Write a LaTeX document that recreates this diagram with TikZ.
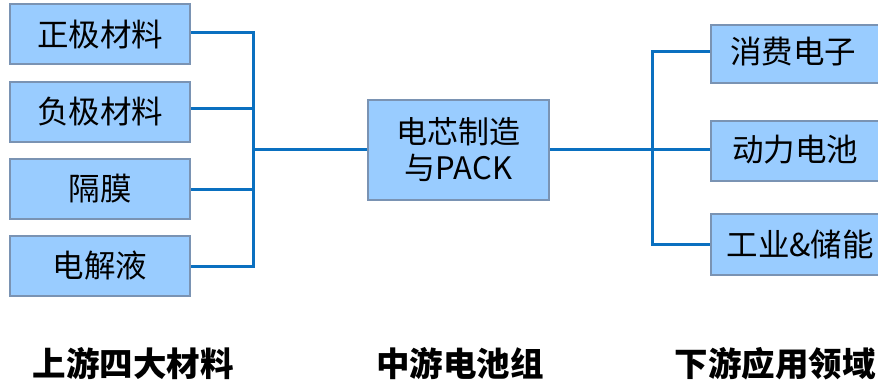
\documentclass[tikz,border=0pt]{standalone}
\usepackage{fontspec}
\setmainfont{Noto Sans CJK SC}
\begin{document}
\begin{tikzpicture}[x=1pt,y=-1pt,
  box/.style={draw=boxborder,line width=2pt,fill=boxfill,inner sep=0pt,minimum width=180pt,minimum height=60pt,font=\fontsize{31.5}{35}\selectfont},
  boxtext/.style={font=\fontsize{31.5}{35}\selectfont},
  conn/.style={draw=linkblue,line width=3pt},
  captext/.style={font=\fontsize{33.5}{37}\selectfont\bfseries}]
\definecolor{boxfill}{HTML}{99CCFF}
\definecolor{boxborder}{HTML}{7A93B3}
\definecolor{linkblue}{HTML}{0A70C0}
\useasboundingbox (0,0) rectangle (878,385);
\clip (0,0) rectangle (878,385);
% left boxes
\node[box] (a1) at (100,34.5) {正极材料};
\node[box] (a2) at (100,112) {负极材料};
\node[box] (a3) at (100,189) {隔膜};
\node[box] (a4) at (100,266) {电解液};
% middle
\node[box,minimum width=181pt,minimum height=100pt,align=center,font=\fontsize{31}{36}\selectfont] (m) at (458.5,150) {电芯制造\\与PACK};
% right boxes (extend past right edge)
\node[box,minimum width=190pt,minimum height=58pt] (b1) at (806,54) {};
\node[box,minimum width=190pt,minimum height=60pt] (b2) at (806,151) {};
\node[box,minimum width=190pt,minimum height=61pt] (b3) at (806,244.5) {};
\node[boxtext] (t1) at (793,52) {消费电子};
\node[boxtext] (t2) at (795,150) {动力电池};
\node[boxtext,anchor=west] (t3) at (723,244) {工业\&储能};
% bus coordinates
\coordinate (lb1) at (253,33);
\coordinate (lb2) at (253,109);
\coordinate (lb3) at (253,189);
\coordinate (lb4) at (253,266);
\coordinate (lbm) at (253,150);
\coordinate (rb1) at (652,52);
\coordinate (rb2) at (652,150);
\coordinate (rb3) at (652,244);
% connectors
\draw[conn] (a1.east |- lb1) -- (lb1) -- (lb4) -- (a4.east |- lb4);
\draw[conn] (a2.east |- lb2) -- (lb2);
\draw[conn] (a3.east |- lb3) -- (lb3);
\draw[conn] (lbm) -- (m.west |- lbm);
\draw[conn] (m.east |- rb2) -- (b2.west |- rb2);
\draw[conn] (b1.west |- rb1) -- (rb1) -- (rb3) -- (b3.west |- rb3);
% captions
\node[captext] (c1) at (133,364) {上游四大材料};
\node[captext] (c2) at (460,364) {中游电池组};
\node[captext] (c3) at (775,364) {下游应用领域};
\end{tikzpicture}
\end{document}
